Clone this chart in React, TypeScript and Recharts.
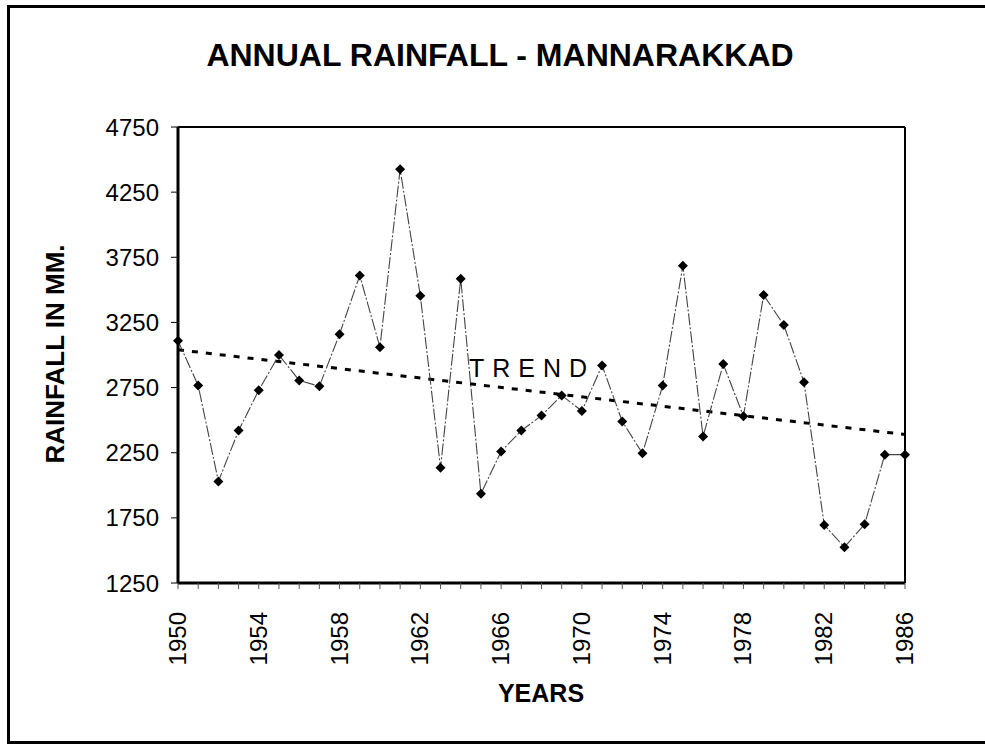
import React from "react";
import {
  LineChart,
  Line,
  XAxis,
  YAxis,
  ReferenceLine,
} from "recharts";

const years = [
  1950, 1951, 1952, 1953, 1954, 1955, 1956, 1957, 1958, 1959, 1960, 1961,
  1962, 1963, 1964, 1965, 1966, 1967, 1968, 1969, 1970, 1971, 1972, 1973,
  1974, 1975, 1976, 1977, 1978, 1979, 1980, 1981, 1982, 1983, 1984, 1985,
  1986,
];

const rainfall = [
  3110, 2765, 2030, 2420, 2730, 3000, 2805, 2760, 3160, 3610, 3060, 4425,
  3455, 2135, 3585, 1935, 2260, 2420, 2535, 2690, 2570, 2920, 2490, 2245,
  2765, 3685, 2375, 2930, 2530, 3460, 3230, 2790, 1695, 1525, 1700, 2235,
  2235,
];

// trend line endpoints (1950 and 1986)
const trendStart = 3040;
const trendEnd = 2390;

const yTicks = [1250, 1750, 2250, 2750, 3250, 3750, 4250, 4750];
const xLabelYears = [1950, 1954, 1958, 1962, 1966, 1970, 1974, 1978, 1982, 1986];

const data = years.map((year, i) => ({
  year,
  rain: rainfall[i],
  trend: i === 0 ? trendStart : i === years.length - 1 ? trendEnd : null,
}));

const font = '"Liberation Sans", Arial, sans-serif';

const Diamond = (props: any) => {
  const { cx, cy, index } = props;
  if (cx == null || cy == null) return <g key={index} />;
  const s = 5;
  return (
    <path
      key={index}
      d={`M${cx},${cy - s} L${cx + s},${cy} L${cx},${cy + s} L${cx - s},${cy} Z`}
      fill="#000"
    />
  );
};

const YearTick = (props: any) => {
  const { x, y, payload } = props;
  if (!xLabelYears.includes(payload.value)) return <g />;
  return (
    <text
      x={x}
      y={y}
      transform={`rotate(-90, ${x}, ${y + 14})`}
      dx={-7}
      dy={22}
      textAnchor="end"
      fontSize={24}
      fontFamily={font}
      fill="#000"
    >
      {payload.value}
    </text>
  );
};

export default function App() {
  return (
    <div style={{ position: "absolute", left: 0, top: 0, width: 985, height: 745, overflow: "hidden", background: "#fff" }}>
      <div
        style={{
          position: "absolute",
          left: 7,
          top: 5,
          width: 990,
          height: 733,
          borderLeft: "3px solid #000",
          borderTop: "3px solid #000",
          borderBottom: "3px solid #000",
        }}
      />
      <div
        style={{
          position: "absolute",
          left: 0,
          width: 1000,
          top: 37,
          textAlign: "center",
          fontFamily: font,
          fontWeight: "bold",
          fontSize: 32,
          lineHeight: "36px",
        }}
      >
        ANNUAL RAINFALL - MANNARAKKAD
      </div>
      <div
        style={{
          position: "absolute",
          left: 55,
          top: 354,
          transform: "translate(-50%, -50%) rotate(-90deg)",
          whiteSpace: "nowrap",
          fontFamily: font,
          fontWeight: "bold",
          fontSize: 26,
        }}
      >
        RAINFALL IN MM.
      </div>
      <div
        style={{
          position: "absolute",
          left: 541,
          top: 693,
          transform: "translate(-50%, -50%)",
          fontFamily: font,
          fontWeight: "bold",
          fontSize: 25,
        }}
      >
        YEARS
      </div>
      <div
        style={{
          position: "absolute",
          left: 469,
          top: 354,
          fontFamily: font,
          fontSize: 25,
          letterSpacing: 8,
          lineHeight: "28px",
        }}
      >
        TREND
      </div>
      <div style={{ position: "absolute", left: 0, top: 0 }}>
        <LineChart
          width={985}
          height={745}
          data={data}
          margin={{ top: 127, right: 80, bottom: 62, left: 78 }}
        >
          <XAxis
            dataKey="year"
            type="number"
            domain={[1950, 1986]}
            ticks={years}
            interval={0}
            height={100}
            tick={<YearTick />}
            tickSize={6}
            tickLine={{ stroke: "#555", strokeWidth: 1 }}
            axisLine={{ stroke: "#000", strokeWidth: 3 }}
          />
          <YAxis
            type="number"
            domain={[1250, 4750]}
            ticks={yTicks}
            interval={0}
            width={100}
            tickSize={7}
            tickMargin={12}
            tick={{ fontSize: 24, fontFamily: font, fill: "#000" }}
            tickLine={{ stroke: "#000", strokeWidth: 1 }}
            axisLine={{ stroke: "#000", strokeWidth: 3 }}
          />
          <ReferenceLine y={4750} stroke="#000" strokeWidth={2} />
          <ReferenceLine x={1986} stroke="#000" strokeWidth={2} />
          <Line
            dataKey="trend"
            connectNulls
            stroke="#000"
            strokeWidth={3}
            strokeDasharray="6 8"
            dot={false}
            isAnimationActive={false}
          />
          <Line
            dataKey="rain"
            stroke="#444"
            strokeWidth={1.1}
            strokeDasharray="12 2 2 2"
            dot={<Diamond />}
            isAnimationActive={false}
          />
        </LineChart>
      </div>
    </div>
  );
}
